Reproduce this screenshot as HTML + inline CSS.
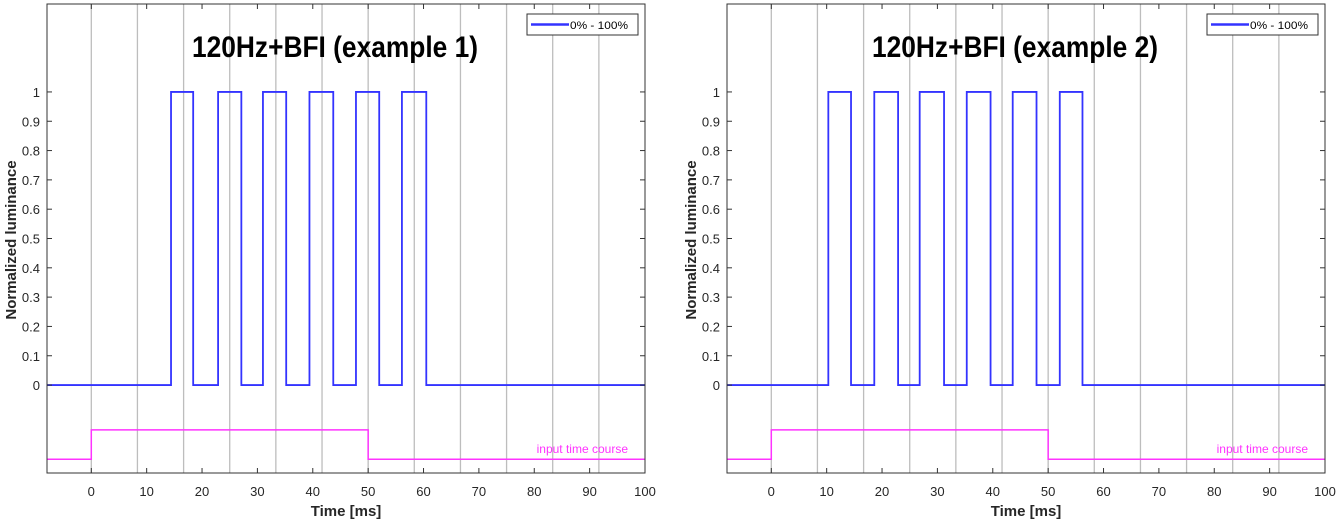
<!DOCTYPE html>
<html><head><meta charset="utf-8"><style>
body{margin:0;background:#fff;width:1340px;height:522px;overflow:hidden}
svg{display:block}
text{font-family:"Liberation Sans",sans-serif}
</style></head><body>
<svg id="s" width="1340" height="522" xmlns="http://www.w3.org/2000/svg"></svg>
<script>
const xTicks=[0,10,20,30,40,50,60,70,80,90,100];
const yTicks=[0,0.1,0.2,0.3,0.4,0.5,0.6,0.7,0.8,0.9,1];
const yTickLabels=["0","0.1","0.2","0.3","0.4","0.5","0.6","0.7","0.8","0.9","1"];
const frameGrid=[0,8.33,16.67,25,33.33,41.67,50,58.33,66.67,75,83.33,91.67];
const edges1=[14.4,18.4,22.9,27.1,31.0,35.2,39.4,43.7,47.8,52.0,56.1,60.5];
const edges2=[10.3,14.4,18.6,22.9,26.8,31.2,35.3,39.6,43.6,47.9,52.1,56.2];
const titles=["120Hz+BFI (example 1)","120Hz+BFI (example 2)"];
const inputOn=0, inputOff=50, inputHigh=-0.153, inputLow=-0.253;
const NS="http://www.w3.org/2000/svg";
const svg=document.getElementById('s');
function el(t,a,p){const e=document.createElementNS(NS,t);for(const k in a)e.setAttribute(k,a[k]);(p||svg).appendChild(e);return e;}
const panels=[{x0:47,x1:645,edges:edges1},{x0:727,x1:1325,edges:edges2}];
panels.forEach((P,i)=>{
  const g=el('g',{});
  
  
  const xMin=-8,xMax=100,yMin=-0.30,yMax=1.30,top=4,bot=473;
  const X=v=>P.x0+(v-xMin)/(xMax-xMin)*(P.x1-P.x0);
  const Y=v=>bot-(v-yMin)/(yMax-yMin)*(bot-top);
  el('rect',{x:P.x0,y:top,width:P.x1-P.x0,height:bot-top,fill:'#fff'},g);
  frameGrid.forEach(t=>{const l=el('line',{x1:X(t),x2:X(t),y1:top,y2:bot,stroke:'#bdbdbd','stroke-width':1.3},g);
    });
  let d='M'+X(xMin)+','+Y(0);let lvl=0;
  P.edges.forEach(t=>{d+=' L'+X(t)+','+Y(lvl);lvl=1-lvl;d+=' L'+X(t)+','+Y(lvl);});
  d+=' L'+X(xMax)+','+Y(lvl);
  const p=el('path',{d:d,fill:'none',stroke:'#3333ff','stroke-width':1.8},g);
  
  const q=el('path',{d:`M${X(xMin)},${Y(inputLow)} L${X(inputOn)},${Y(inputLow)} L${X(inputOn)},${Y(inputHigh)} L${X(inputOff)},${Y(inputHigh)} L${X(inputOff)},${Y(inputLow)} L${X(xMax)},${Y(inputLow)}`,fill:'none',stroke:'#ff33ff','stroke-width':1.5},g);
  
  const it=el('text',{x:P.x1-17,y:Y(inputLow)-6,'font-size':12,fill:'#ff33ff','text-anchor':'end'},g);it.textContent='input time course';
  
  el('rect',{x:P.x0,y:top,width:P.x1-P.x0,height:bot-top,fill:'none',stroke:'#333','stroke-width':1},g);
  xTicks.forEach(t=>{el('line',{x1:X(t),x2:X(t),y1:bot,y2:bot-5,stroke:'#333'},g);el('line',{x1:X(t),x2:X(t),y1:top,y2:top+5,stroke:'#333'},g);
    const tx=el('text',{x:X(t),y:496,'font-size':13,fill:'#262626','text-anchor':'middle'},g);tx.textContent=t;
    });
  yTicks.forEach((t,k)=>{el('line',{x1:P.x0,x2:P.x0+5,y1:Y(t),y2:Y(t),stroke:'#333'},g);el('line',{x1:P.x1,x2:P.x1-5,y1:Y(t),y2:Y(t),stroke:'#333'},g);
    const ty=el('text',{x:P.x0-7,y:Y(t)+5,'font-size':13,fill:'#262626','text-anchor':'end'},g);ty.textContent=yTickLabels[k];
    });
  const xl=el('text',{x:(P.x0+P.x1)/2,y:516,'font-size':15,'font-weight':'bold',fill:'#262626','text-anchor':'middle'},g);xl.textContent='Time [ms]';
  
  const yl=el('text',{x:0,y:0,'font-size':15,'font-weight':'bold',fill:'#262626','text-anchor':'middle',transform:`translate(${P.x0-31},240) rotate(-90)`},g);yl.textContent='Normalized luminance';
  
  const cx=(P.x0+P.x1)/2-11;
  const ti=el('text',{x:cx-143,y:57,'font-size':30,'font-weight':'bold',fill:'#000',textLength:286,lengthAdjust:'spacingAndGlyphs'},g);ti.textContent=titles[i];
  
  const lg=el('g',{},g);
  el('rect',{x:P.x1-118,y:14,width:111,height:21,fill:'#fff',stroke:'#333','stroke-width':1},lg);
  el('line',{x1:P.x1-114,x2:P.x1-76,y1:24.5,y2:24.5,stroke:'#3333ff','stroke-width':2.5},lg);
  const lt=el('text',{x:P.x1-75,y:29,'font-size':11,fill:'#000',textLength:58,lengthAdjust:'spacingAndGlyphs'},lg);lt.textContent='0% - 100%';
  
});
</script>
</body></html>
